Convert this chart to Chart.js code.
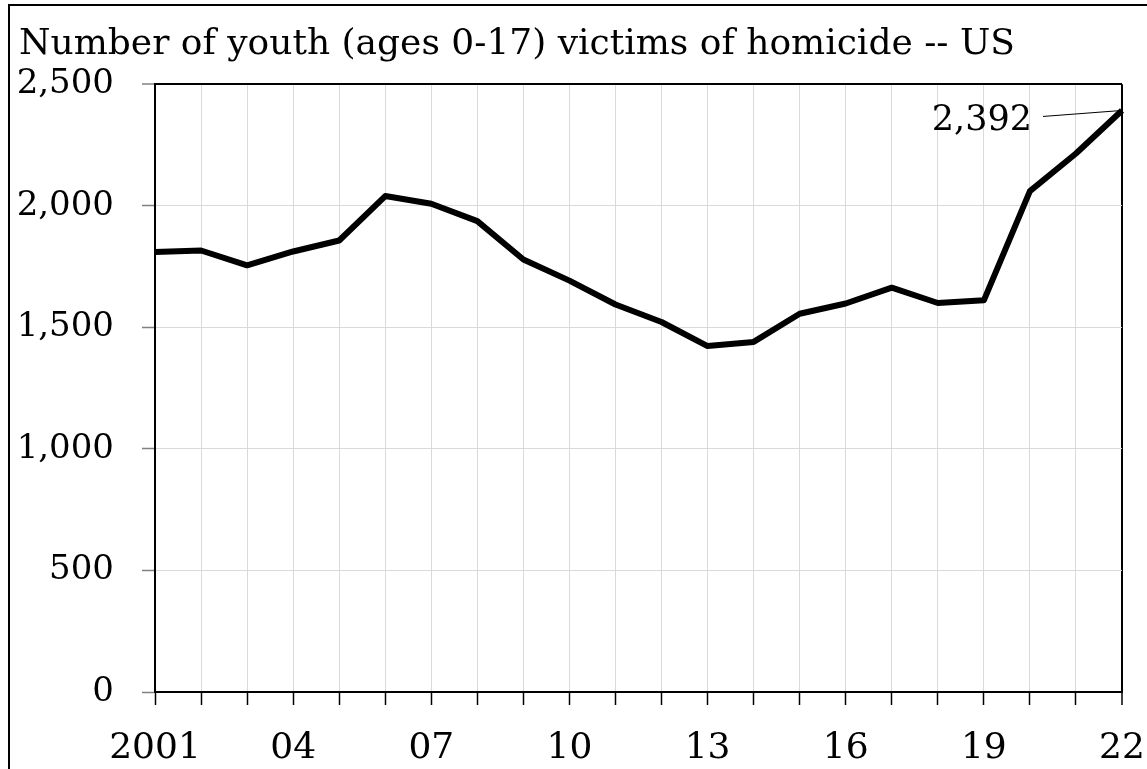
<!DOCTYPE html>
<html>
<head>
<meta charset="utf-8">
<script src="https://cdn.jsdelivr.net/npm/chart.js@4.4.1/dist/chart.umd.min.js"></script>
<style>
  html, body { margin: 0; padding: 0; background: #fff; }
  #wrap { position: relative; width: 1147px; height: 769px; overflow: hidden; }
  #frame { position: absolute; left: 8px; top: 4px; width: 1200px; height: 800px;
           border-top: 2px solid #000; border-left: 2px solid #000; pointer-events: none; }
</style>
</head>
<body>
<div id="wrap">
  <canvas id="myChart"></canvas>
  <div id="frame"></div>
</div>
<script>
// data
const years = ['2001','2002','2003','2004','2005','2006','2007','2008','2009','2010','2011',
               '2012','2013','2014','2015','2016','2017','2018','2019','2020','2021','2022'];
const victims = [1810, 1816, 1755, 1812, 1857, 2040, 2008, 1937, 1779, 1692, 1594,
                 1522, 1423, 1440, 1556, 1598, 1663, 1600, 1611, 2060, 2215, 2392];
const shownYears = ['2001','2004','2007','2010','2013','2016','2019','2022'];
const tickLabels = ['2001','04','07','10','13','16','19','22'];
const yTicks = [0, 500, 1000, 1500, 2000, 2500];
const lastLabel = '2,392';
const titleText = 'Number of youth (ages 0-17) victims of homicide -- US';

const FONT = '"DejaVu Serif", "Liberation Serif", serif';

// value callout with a thin leader line for the last point
const lastLabelPlugin = {
  id: 'lastLabel',
  afterDatasetsDraw(chart) {
    const { ctx, scales: { x, y } } = chart;
    const i = victims.length - 1;
    const px = x.getPixelForValue(i);
    const py = y.getPixelForValue(victims[i]);
    ctx.save();
    ctx.strokeStyle = '#000';
    ctx.lineWidth = 1;
    ctx.beginPath();
    ctx.moveTo(px - 79, py + 6);
    ctx.lineTo(px, py);
    ctx.stroke();
    ctx.fillStyle = '#000';
    ctx.font = '35px ' + FONT;
    ctx.textAlign = 'right';
    ctx.textBaseline = 'alphabetic';
    ctx.fillText(lastLabel, px - 90, py + 20);
    ctx.restore();
  }
};

const ctx = document.getElementById('myChart').getContext('2d');
const myChart = new Chart(ctx, {
  type: 'line',
  data: {
    labels: years,
    datasets: [{
      data: victims,
      borderColor: '#000',
      borderWidth: 6,
      pointRadius: 0,
      tension: 0,
      borderJoinStyle: 'round'
    }]
  },
  options: {
    responsive: true,
    maintainAspectRatio: false,
    animation: false,
    layout: { padding: { left: 19, right: 25, top: 0, bottom: 0 } },
    plugins: {
      legend: { display: false },
      tooltip: { enabled: false },
      title: {
        display: true,
        text: titleText,
        align: 'start',
        color: '#000',
        font: { family: FONT, size: 36, weight: 'normal', lineHeight: 1.2 },
        padding: { top: 23, bottom: 18 }
      }
    },
    scales: {
      x: {
        type: 'category',
        offset: false,
        afterFit: (s) => { s.height = 77; s.paddingLeft = 0; s.paddingRight = 0; },
        border: { display: true, color: '#000', width: 2 },
        grid: {
          color: (c) => c.index === years.length - 1 ? '#000' : '#d9d9d9',
          lineWidth: (c) => c.index === years.length - 1 ? 2 : 1,
          tickColor: '#000',
          tickLength: 13,
          tickWidth: 1.5
        },
        ticks: {
          autoSkip: false,
          maxRotation: 0,
          color: '#000',
          padding: 22,
          font: { family: FONT, size: 36 },
          callback: (val, i) => {
            const k = shownYears.indexOf(years[i]);
            return k >= 0 ? tickLabels[k] : '';
          }
        }
      },
      y: {
        min: yTicks[0],
        max: yTicks[yTicks.length - 1],
        afterFit: (s) => { s.width = 136; },
        border: { display: true, color: '#000', width: 2 },
        grid: {
          color: (c) => c.tick && c.tick.value === 2500 ? '#000' : '#d9d9d9',
          lineWidth: (c) => c.tick && c.tick.value === 2500 ? 2 : 1,
          tickColor: '#808080',
          tickLength: 13,
          tickWidth: 1.5
        },
        ticks: {
          stepSize: 500,
          color: '#000',
          padding: 28,
          font: { family: FONT, size: 34 },
          callback: (v) => v.toLocaleString('en-US')
        }
      }
    }
  },
  plugins: [lastLabelPlugin]
});
</script>
</body>
</html>
